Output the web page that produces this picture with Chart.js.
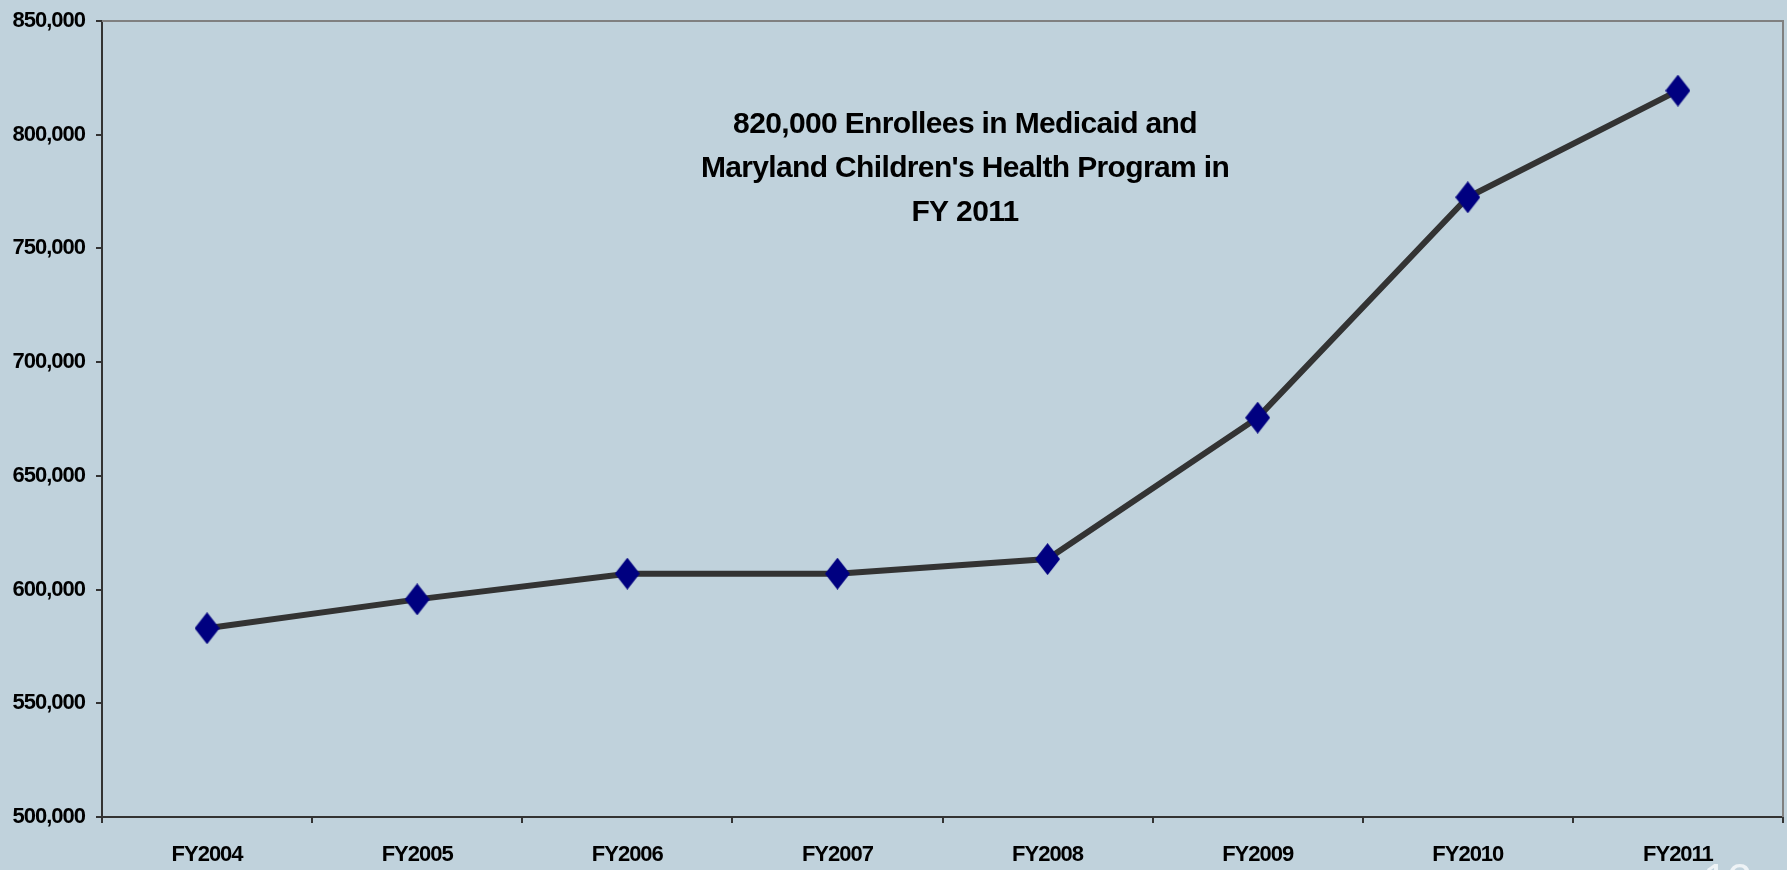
<!DOCTYPE html>
<html>
<head>
<meta charset="utf-8">
<script src="https://cdn.jsdelivr.net/npm/chart.js@4"></script>
<style>
  html, body { margin: 0; padding: 0; background: #C0D2DC; overflow: hidden; }
  #wrap { width: 1787px; height: 870px; position: relative; }
</style>
</head>
<body>
<div id="wrap"><canvas id="c" width="1787" height="870"></canvas></div>
<script>
const categories = ["FY2004", "FY2005", "FY2006", "FY2007", "FY2008", "FY2009", "FY2010", "FY2011"];
const enrollees = [583000, 595700, 607000, 607000, 613400, 675600, 772500, 819400];
const yTicks = [500000, 550000, 600000, 650000, 700000, 750000, 800000, 850000];
const titleLines = ["820,000 Enrollees in Medicaid and", "Maryland Children's Health Program in", "FY 2011"];

const FONT = "'Liberation Sans', Arial, sans-serif";

// diamond marker (taller than wide)
function diamond(w, h, color) {
  const c = document.createElement('canvas');
  c.width = w; c.height = h;
  const g = c.getContext('2d');
  g.fillStyle = color;
  g.beginPath();
  g.moveTo(w / 2, 0); g.lineTo(w, h / 2); g.lineTo(w / 2, h); g.lineTo(0, h / 2);
  g.closePath(); g.fill();
  return c;
}
const marker = diamond(25, 32, '#000080');

const framePlugin = {
  id: 'frame',
  beforeDraw(chart) {
    const ctx = chart.ctx;
    ctx.save();
    ctx.fillStyle = '#C0D2DC';
    ctx.fillRect(0, 0, chart.width, chart.height);
    ctx.restore();
    ctx.letterSpacing = '-1px';
  },
  beforeDatasetsDraw(chart) {
    const { ctx, chartArea: a } = chart;
    ctx.save();
    ctx.strokeStyle = '#808080';
    ctx.lineWidth = 2;
    ctx.beginPath();
    ctx.moveTo(a.left, a.top); ctx.lineTo(a.right, a.top); ctx.lineTo(a.right, a.bottom);
    ctx.stroke();
    ctx.restore();
  },
  afterDraw(chart) {
    const { ctx } = chart;
    ctx.save();
    ctx.letterSpacing = '-0.65px';
    ctx.fillStyle = '#000000';
    ctx.font = "bold 30px " + FONT;
    ctx.textAlign = 'center';
    ctx.textBaseline = 'alphabetic';
    const cx = 965;
    titleLines.forEach((t, i) => ctx.fillText(t, cx, 133 + i * 44));
    // slide number (cut off at the bottom)
    ctx.letterSpacing = '0px';
    ctx.fillStyle = '#EEF3F6';
    ctx.font = "44px " + FONT;
    ctx.textAlign = 'left';
    ctx.textBaseline = 'top';
    ctx.fillText('12', 1703, 861);
    ctx.restore();
    ctx.letterSpacing = '0px';
  }
};

new Chart(document.getElementById('c'), {
  type: 'line',
  data: {
    labels: categories,
    datasets: [{
      data: enrollees,
      borderColor: '#333333',
      borderWidth: 6,
      pointStyle: marker,
      pointRadius: 16,
      pointHoverRadius: 16,
      tension: 0,
      fill: false,
      clip: false
    }]
  },
  options: {
    responsive: false,
    animation: false,
    events: [],
    layout: { autoPadding: false, padding: { top: 21, right: 4, left: 0, bottom: 0 } },
    plugins: { legend: { display: false }, tooltip: { enabled: false }, title: { display: false } },
    scales: {
      x: {
        offset: true,
        grid: { display: true, drawOnChartArea: false, drawTicks: true, tickLength: 6, color: '#333333', lineWidth: 2, offset: true },
        border: { display: true, color: '#333333', width: 2 },
        ticks: { color: '#000000', font: { family: FONT, weight: 'bold', size: 22 }, padding: 19, maxRotation: 0, autoSkip: false },
        afterFit(s) { s.height = 53; s.paddingLeft = 0; s.paddingRight = 0; }
      },
      y: {
        min: 500000,
        max: 850000,
        afterBuildTicks(s) { s.ticks = yTicks.map(v => ({ value: v })); },
        grid: { display: true, drawOnChartArea: false, drawTicks: true, tickLength: 6, color: '#333333', lineWidth: 2 },
        border: { display: true, color: '#333333', width: 2 },
        ticks: {
          color: '#000000',
          font: { family: FONT, weight: 'bold', size: 22 },
          padding: 11,
          callback: v => v.toLocaleString('en-US')
        },
        afterFit(s) { s.width = 102; s.paddingTop = 0; s.paddingBottom = 0; }
      }
    }
  },
  plugins: [framePlugin]
});
</script>
</body>
</html>
